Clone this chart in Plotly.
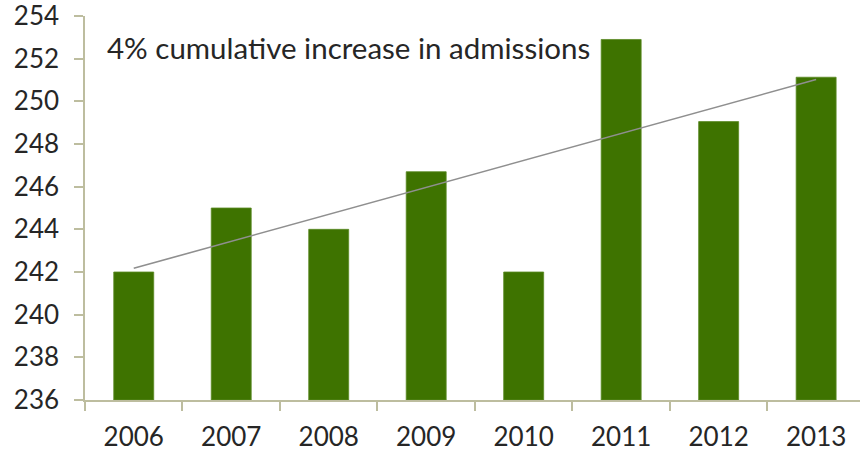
import numpy as np
import plotly.graph_objects as go

# Annual admissions (thousands)
years = ["2006", "2007", "2008", "2009", "2010", "2011", "2012", "2013"]
admissions = [242.0, 245.0, 244.0, 246.7, 242.0, 252.9, 249.05, 251.13]
y_ticks = [236, 238, 240, 242, 244, 246, 248, 250, 252, 254]
note = "4% cumulative increase in admissions"

BAR_GREEN = "#3e7300"
AXIS_COLOR = "#bdbd9f"
TEXT_COLOR = "#262626"
FONT = "Lato"

# Least-squares linear trend across the years
idx = np.arange(len(years))
slope, intercept = np.polyfit(idx, admissions, 1)
trend = [intercept, intercept + slope * idx[-1]]

fig = go.Figure()

fig.add_trace(go.Bar(
    x=years,
    y=[v - y_ticks[0] for v in admissions],
    base=y_ticks[0],
    marker=dict(color=BAR_GREEN, line=dict(color="#5b8a25", width=0.8)),
    width=0.41,
    hoverinfo="x+y",
))

fig.add_trace(go.Scatter(
    x=[years[0], years[-1]],
    y=trend,
    mode="lines",
    line=dict(color="#8f8f8f", width=1.6),
    hoverinfo="skip",
))

fig.update_layout(
    width=860,
    height=455,
    margin=dict(l=85, r=0, t=16, b=55),
    paper_bgcolor="white",
    plot_bgcolor="white",
    showlegend=False,
    font=dict(family=FONT, size=26, color=TEXT_COLOR),
    xaxis=dict(
        type="category",
        range=[-0.5, 7.45],
        showline=True,
        linecolor=AXIS_COLOR,
        linewidth=1.5,
        showgrid=False,
        ticks="outside",
        tickson="boundaries",
        ticklen=9,
        tickcolor=AXIS_COLOR,
        tickwidth=1.5,
        tickfont=dict(family=FONT, size=26, color=TEXT_COLOR),
        ticklabelstandoff=13,
        ticklabeloverflow="allow",
    ),
    yaxis=dict(
        range=[236, 254],
        tickvals=y_ticks,
        ticktext=[str(t) for t in y_ticks],
        showline=True,
        linecolor=AXIS_COLOR,
        linewidth=1.5,
        showgrid=False,
        zeroline=False,
        ticks="outside",
        ticklen=9,
        tickcolor=AXIS_COLOR,
        tickwidth=1.5,
        tickfont=dict(family=FONT, size=26, color=TEXT_COLOR),
        ticklabelstandoff=10,
        ticklabeloverflow="allow",
    ),
    annotations=[dict(
        text=note,
        xref="paper", yref="paper",
        x=0.026, y=0.919,
        xanchor="left", yanchor="middle",
        showarrow=False,
        font=dict(family=FONT, size=29.5, color=TEXT_COLOR),
    )],
)

fig.write_html("out.html")
